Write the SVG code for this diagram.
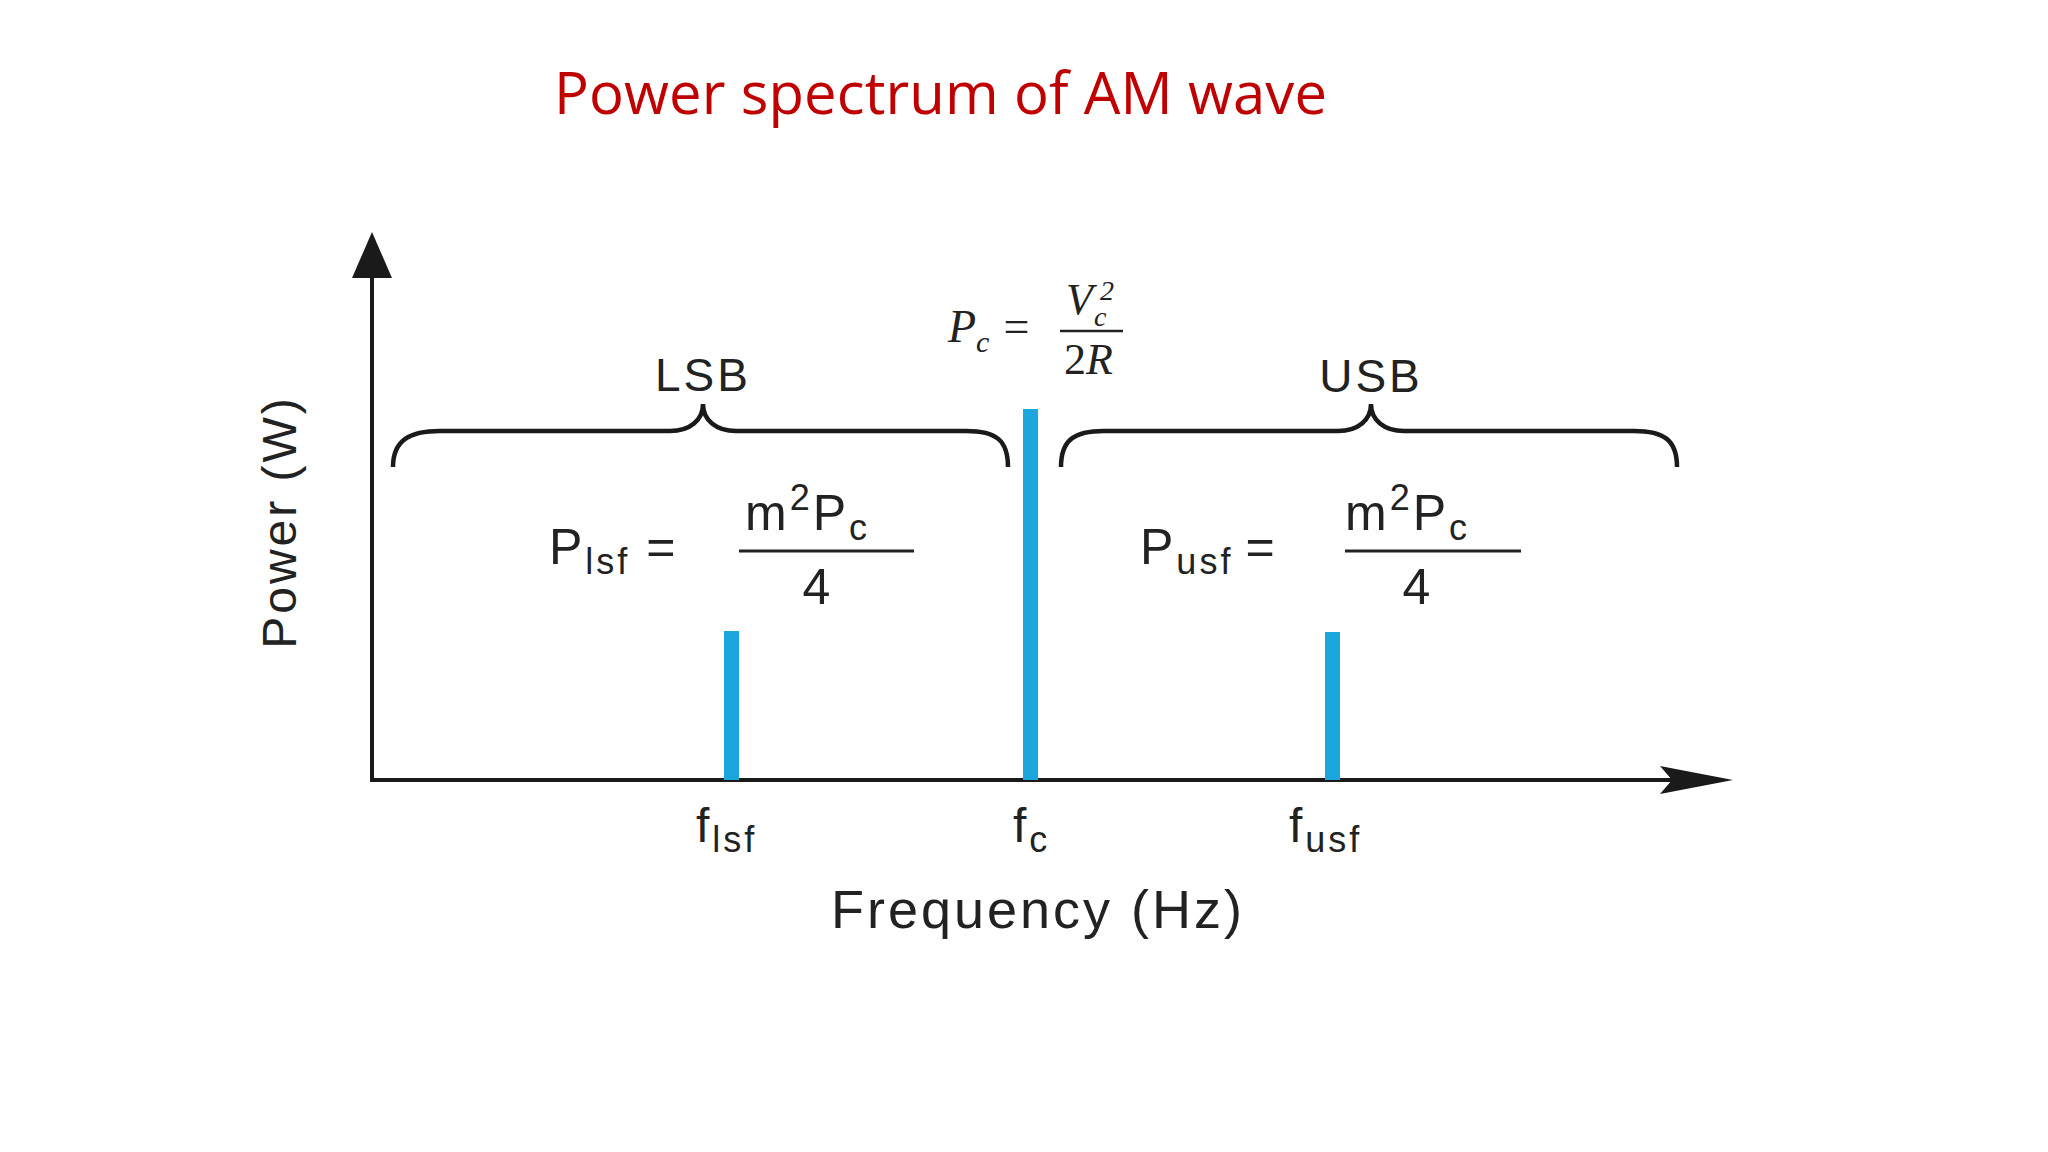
<svg xmlns="http://www.w3.org/2000/svg" width="2048" height="1152" viewBox="0 0 2048 1152">
<style>
.t{font-family:"Liberation Sans",Arial,sans-serif;fill:#222;letter-spacing:3px}
.m{font-family:"Liberation Serif","Times New Roman",serif;font-style:italic;fill:#222}
.bar{fill:#1ba7dd}
.ax{stroke:#1a1a1a;stroke-width:4;fill:none}
.br{stroke:#1a1a1a;stroke-width:4.5;fill:none}
</style>
<rect width="2048" height="1152" fill="#fff"/>
<text x="554" y="114" font-family="Open Sans,Liberation Sans,sans-serif" font-size="58" fill="#c00000" textLength="773">Power spectrum of AM wave</text>
<g id="connectors">
<line class="ax" x1="372" y1="780" x2="372" y2="272"/>
<path d="M372,232 L352,278 L392,278 Z" fill="#1a1a1a"/>
<line class="ax" x1="370" y1="780" x2="1685" y2="780"/>
<path d="M1733,780 L1660,766 L1672,780 L1660,794 Z" fill="#1a1a1a"/>
</g>
<g id="bars">
<rect class="bar" x="724" y="631" width="15" height="149"/>
<rect class="bar" x="1023" y="409" width="15" height="371"/>
<rect class="bar" x="1325" y="632" width="15" height="148"/>
</g>
<g id="lsb">
<path class="br" d="M393,467 C393,440 410,431 440,431 L670,431 C690,431 703,420 703,404 C703,420 716,431 736,431 L966,431 C996,431 1008,440 1008,467"/>
<text class="t" x="703" y="391" font-size="46" text-anchor="middle">LSB</text>
</g>
<g id="usb">
<path class="br" d="M1061,467 C1061,440 1074,431 1104,431 L1338,431 C1358,431 1371,420 1371,404 C1371,420 1384,431 1404,431 L1634,431 C1664,431 1677,440 1677,467"/>
<text class="t" x="1371" y="392" font-size="46" text-anchor="middle">USB</text>
</g>
<g id="ylabel"><text class="t" transform="translate(296,522) rotate(-90)" font-size="48" text-anchor="middle">Power (W)</text></g>
<g id="plsf">
<text class="t" x="549" y="564" font-size="50">P<tspan font-size="36" dy="10">lsf</tspan><tspan dy="-10" dx="16">=</tspan></text>
<text class="t" x="745" y="530" font-size="50" letter-spacing="5">m<tspan font-size="36" dy="-20">2</tspan><tspan dy="20">P</tspan><tspan font-size="36" dy="10">c</tspan></text>
<line x1="739" y1="551" x2="914" y2="551" stroke="#222" stroke-width="3"/>
<text class="t" x="818" y="604" font-size="50" text-anchor="middle">4</text>
</g>
<g id="pusf">
<text class="t" x="1140" y="564" font-size="50">P<tspan font-size="36" dy="10">usf</tspan><tspan dy="-10" dx="12">=</tspan></text>
<text class="t" x="1345" y="530" font-size="50" letter-spacing="5">m<tspan font-size="36" dy="-20">2</tspan><tspan dy="20">P</tspan><tspan font-size="36" dy="10">c</tspan></text>
<line x1="1345" y1="551" x2="1521" y2="551" stroke="#222" stroke-width="3"/>
<text class="t" x="1418" y="604" font-size="50" text-anchor="middle">4</text>
</g>
<g id="pc">
<text class="m" x="948" y="342" font-size="46">P<tspan font-size="30" dy="10">c</tspan><tspan font-style="normal" dy="-10" dx="14">=</tspan></text>
<text class="m" x="1066" y="314" font-size="44">V</text>
<text class="m" x="1100" y="300" font-size="28" font-style="normal">2</text>
<text class="m" x="1094" y="326" font-size="28">c</text>
<line x1="1060" y1="331" x2="1123" y2="331" stroke="#222" stroke-width="2.5"/>
<text class="m" x="1064" y="374" font-size="44"><tspan font-style="normal">2</tspan>R</text>
</g>
<g id="flabels">
<text class="t" x="696" y="842" font-size="48">f<tspan font-size="36" dy="10">lsf</tspan></text>
<text class="t" x="1013" y="842" font-size="48">f<tspan font-size="36" dy="10">c</tspan></text>
<text class="t" x="1289" y="842" font-size="48">f<tspan font-size="36" dy="10">usf</tspan></text>
<text class="t" x="1038" y="928" font-size="54" text-anchor="middle" letter-spacing="4">Frequency (Hz)</text>
</g>
</svg>
